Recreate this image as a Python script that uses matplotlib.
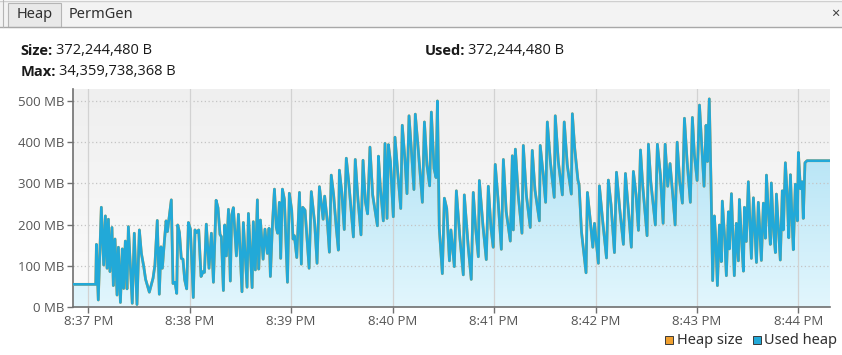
import numpy as np
import matplotlib.pyplot as plt
from matplotlib.colors import LinearSegmentedColormap
from matplotlib.lines import Line2D
from matplotlib.patches import Rectangle

# samples: seconds after 8:37 PM, heap in MB
t_sec = [
    -10, 4.4, 4.8, 5.9, 7.7, 9.1, 10.1, 11.1, 11.9, 12.8,
    14.0, 14.8, 15.8, 17.0, 17.8, 19.0, 20.1, 20.9, 21.9, 22.9,
    23.7, 26.0, 27.2, 28.8, 30.2, 31.4, 32.8, 33.9, 36.1, 38.3,
    39.4, 40.8, 42.0, 43.0, 43.8, 45.0, 46.0, 46.8, 49.1, 50.1,
    51.3, 52.3, 52.9, 53.9, 55.0, 56.0, 57.0, 58.2, 59.2, 60.4,
    62.1, 63.1, 64.1, 65.3, 66.7, 67.9, 68.7, 69.8, 71.4, 72.8,
    74.0, 75.6, 76.7, 77.9, 78.7, 79.9, 80.7, 81.7, 82.9, 84.0,
    84.8, 85.8, 87.6, 88.8, 90.9, 91.7, 93.9, 94.7, 96.9, 97.6,
    98.8, 100.0, 100.8, 101.8, 103.4, 104.5, 105.9, 106.9, 107.7, 108.9,
    110.1, 111.2, 112.0, 113.0, 113.8, 114.8, 116.0, 117.8, 118.9, 120.3,
    121.1, 121.9, 123.3, 124.9, 126.0, 126.8, 128.2, 130.6, 131.9, 133.9,
    135.3, 136.7, 138.9, 139.8, 141.4, 142.6, 143.7, 145.1, 146.7, 147.9,
    148.5, 149.9, 151.4, 152.6, 154.2, 156.8, 157.9, 159.5, 161.3, 162.5,
    163.9, 165.2, 166.6, 168.2, 171.0, 171.6, 172.7, 174.5, 175.5, 176.7,
    177.5, 178.7, 180.4, 181.4, 183.0, 184.8, 185.7, 187.3, 188.5, 189.7,
    191.3, 192.6, 193.4, 194.8, 197.6, 198.8, 200.3, 201.9, 202.9, 204.5,
    205.7, 206.5, 207.6, 209.4, 210.6, 212.0, 213.6, 214.5, 216.5, 217.7,
    219.8, 221.8, 222.4, 224.8, 226.5, 227.7, 229.1, 230.7, 231.3, 233.4,
    235.4, 236.6, 238.2, 239.5, 240.7, 242.3, 244.3, 245.5, 247.2, 249.6,
    250.8, 251.4, 252.6, 254.3, 256.5, 257.3, 259.1, 261.4, 262.6, 264.2,
    266.8, 267.3, 269.1, 270.5, 271.5, 273.3, 275.6, 276.2, 278.0, 280.4,
    281.5, 283.3, 285.7, 286.3, 287.7, 289.6, 290.3, 291.7, 294.4, 295.2,
    296.6, 298.4, 299.4, 301.7, 302.3, 304.1, 306.5, 307.6, 309.2, 311.2,
    312.4, 314.3, 316.5, 317.7, 319.5, 321.2, 322.4, 324.0, 325.4, 326.6,
    327.9, 330.5, 331.3, 332.7, 335.4, 336.6, 338.4, 340.0, 341.2, 342.7,
    344.1, 345.7, 347.1, 348.3, 349.8, 351.4, 352.6, 354.2, 356.1, 357.3,
    358.5, 360.1, 361.5, 364.2, 365.4, 366.2, 367.3, 368.3, 369.3, 370.3,
    371.1, 372.1, 373.3, 374.4, 375.0, 376.4, 377.4, 378.6, 379.2, 380.4,
    382.1, 383.3, 384.5, 385.1, 386.3, 387.5, 388.1, 389.2, 390.4, 392.2,
    393.4, 395.2, 396.3, 398.1, 399.3, 400.5, 401.1, 402.3, 403.4, 404.0,
    405.2, 406.4, 407.0, 408.2, 409.3, 410.5, 411.1, 412.3, 413.5, 414.3,
    415.3, 416.2, 417.0, 418.2, 419.4, 420.0, 421.2, 422.2, 422.9, 423.9,
    425.1, 445,
]
used_mb = [
    55, 55, 152, 17, 242, 102, 221, 94, 213, 86,
    193, 52, 165, 29, 145, 11, 141, 45, 160, 44,
    195, 9, 179, 6, 187, 130, 98, 67, 36, 70,
    102, 210, 31, 146, 94, 159, 209, 183, 260, 57,
    60, 33, 199, 181, 118, 116, 66, 44, 205, 189,
    23, 187, 181, 187, 74, 86, 84, 201, 94, 179,
    60, 259, 241, 176, 171, 40, 199, 124, 237, 63,
    223, 241, 124, 225, 37, 205, 48, 227, 47, 207,
    90, 260, 92, 211, 116, 189, 130, 191, 74, 199,
    286, 193, 179, 254, 118, 286, 261, 60, 276, 235,
    165, 173, 120, 278, 104, 242, 235, 94, 280, 203,
    106, 292, 213, 269, 207, 133, 320, 272, 191, 138,
    332, 280, 188, 361, 296, 170, 358, 261, 175, 356,
    255, 226, 388, 272, 197, 366, 292, 209, 397, 215,
    394, 353, 219, 412, 328, 239, 441, 357, 275, 464,
    369, 285, 468, 401, 254, 449, 345, 294, 473, 336,
    314, 500, 191, 81, 264, 239, 112, 187, 98, 282,
    167, 78, 272, 142, 67, 278, 191, 122, 307, 199,
    115, 293, 191, 145, 346, 264, 140, 358, 231, 160,
    367, 187, 383, 272, 179, 392, 272, 193, 380, 284,
    209, 392, 320, 254, 449, 353, 266, 464, 353, 272,
    449, 345, 274, 469, 385, 308, 296, 183, 83, 278,
    223, 145, 203, 106, 294, 215, 119, 308, 248, 132,
    327, 239, 152, 324, 231, 145, 329, 272, 186, 381,
    296, 173, 395, 304, 199, 395, 320, 203, 395, 293,
    348, 272, 199, 400, 304, 252, 458, 353, 254, 460,
    369, 307, 490, 293, 441, 353, 505, 305, 64, 221,
    167, 52, 199, 110, 257, 167, 76, 231, 141, 275,
    76, 203, 112, 261, 167, 87, 242, 159, 304, 118,
    265, 108, 254, 113, 252, 167, 320, 228, 152, 301,
    191, 132, 274, 191, 114, 282, 187, 350, 264, 168,
    321, 215, 139, 298, 209, 375, 287, 304, 215, 350,
    355, 355,
]
# heap size tracks used heap exactly here, so it hides under the blue line
heap_size_mb = used_mb

x_ticks = [0, 60, 120, 180, 240, 300, 360, 420]
x_labels = ['8:37 PM', '8:38 PM', '8:39 PM', '8:40 PM',
            '8:41 PM', '8:42 PM', '8:43 PM', '8:44 PM']
y_ticks = [0, 100, 200, 300, 400, 500]

size_txt = '372,244,480 B'
used_txt = '372,244,480 B'
max_txt = '34,359,738,368 B'

W, H = 842, 355
FONT = 'Noto Sans'
HEAD_FONT = ['Open Sans', 'DejaVu Sans']
BLUE = '#22a9d8'
ORANGE = '#f0a030'


def fx(x):
    return x / W


def fy(y):
    return 1 - y / H


fig = plt.figure(figsize=(W / 100, H / 100), dpi=100)
fig.patch.set_facecolor('white')

# tab strip
fig.add_artist(Rectangle((0, fy(27)), 1, fy(1) - fy(27), transform=fig.transFigure,
                         fc='#f3f3f3', ec='none'))
fig.add_artist(Rectangle((fx(8), fy(27)), fx(61) - fx(8), fy(3) - fy(27),
                         transform=fig.transFigure, fc='#e9e9e9', ec='#b5b5b5', lw=0.8))
fig.add_artist(Line2D([0, 1], [fy(1)] * 2, transform=fig.transFigure, color='#cfcfcf', lw=1))
fig.add_artist(Line2D([0, 1], [fy(27)] * 2, transform=fig.transFigure, color='#a8a8a8', lw=1))
fig.add_artist(Line2D([fx(2.5)] * 2, [fy(27), 1], transform=fig.transFigure, color='#b5b5b5', lw=0.8))
fig.text(fx(35), fy(15), 'Heap', ha='center', va='center', fontsize=10.5,
         family=FONT, color='#303030')
fig.text(fx(69), fy(15), 'PermGen', ha='left', va='center', fontsize=10.5,
         family=FONT, color='#303030')
fig.text(fx(835), fy(14), '×', ha='center', va='center', fontsize=10.5,
         family=FONT, color='#404040')

ax = fig.add_axes([fx(73), fy(307), fx(830) - fx(73), fy(89) - fy(307)])
x0, x1 = -9.05, 438.7
y0, y1 = 0, 529


# header figures: bold label followed by value
def stat(x, y, label, value):
    lab = fig.text(fx(x), fy(y), label, fontweight='bold', fontsize=10.5,
                   family=HEAD_FONT, color='#1a1a1a', va='baseline')
    ax.annotate(value, xy=(1, 0), xycoords=lab, xytext=(2, 0),
                textcoords='offset points', va='bottom', ha='left',
                fontsize=10.5, family=HEAD_FONT, color='#1a1a1a', annotation_clip=False)


stat(20.5, 55, 'Size:', size_txt)
stat(20.5, 76, 'Max:', max_txt)
stat(425, 55, 'Used:', used_txt)

# plot background gradient
bg = LinearSegmentedColormap.from_list('bg', ['#fbfbfb', '#efefef'])
ax.imshow(np.linspace(0, 1, 256).reshape(-1, 1), cmap=bg, aspect='auto',
          extent=[x0, x1, y0, y1], origin='lower', zorder=0)

# gradient fill under used heap
fill_cmap = LinearSegmentedColormap.from_list('fill', ['#e2f6fd', '#a6def3'])
poly = ax.fill_between(t_sec, used_mb, color='none', lw=0)
grad = ax.imshow(np.linspace(0, 1, 256).reshape(-1, 1), cmap=fill_cmap, aspect='auto',
                 extent=[x0, x1, y0, y1], origin='lower', zorder=1)
grad.set_clip_path(poly.get_paths()[0], transform=ax.transData)

ax.plot(t_sec, heap_size_mb, color=ORANGE, lw=2.0, zorder=3)
ax.plot(t_sec, used_mb, color=BLUE, lw=1.9, zorder=4)

ax.set_xlim(x0, x1)
ax.set_ylim(y0, y1)
ax.set_xticks(x_ticks)
ax.set_xticklabels(x_labels)
ax.set_yticks(y_ticks)
ax.set_yticklabels([f'{v} MB' for v in y_ticks])

for v in y_ticks[1:]:
    ax.axhline(v, color='#c4c4c4', lw=0.9, ls=(0, (1, 2)), zorder=1.5)
for v in x_ticks:
    ax.axvline(v, color='#d2d2d2', lw=0.9, zorder=1.5)

for s in ['top', 'right']:
    ax.spines[s].set_visible(False)
for s in ['left', 'bottom']:
    ax.spines[s].set_color('#707070')
    ax.spines[s].set_linewidth(1.2)
ax.tick_params(axis='both', length=4, width=1, color='#707070', labelcolor='#555555',
               labelsize=9.5, pad=2)
for lbl in ax.get_xticklabels() + ax.get_yticklabels():
    lbl.set_family('Open Sans')

# legend
for x, c, name in [(665, ORANGE, 'Heap size'), (752.5, BLUE, 'Used heap')]:
    fig.add_artist(Rectangle((fx(x), fy(344)), fx(8), 8 / H, transform=fig.transFigure,
                             fc=c, ec='#3a3a3a', lw=0.7))
    fig.text(fx(x + 12), fy(340), name, ha='left', va='center', fontsize=10.5,
             family=FONT, color='#303030')

fig.savefig('out.png', dpi=100, facecolor='white')
